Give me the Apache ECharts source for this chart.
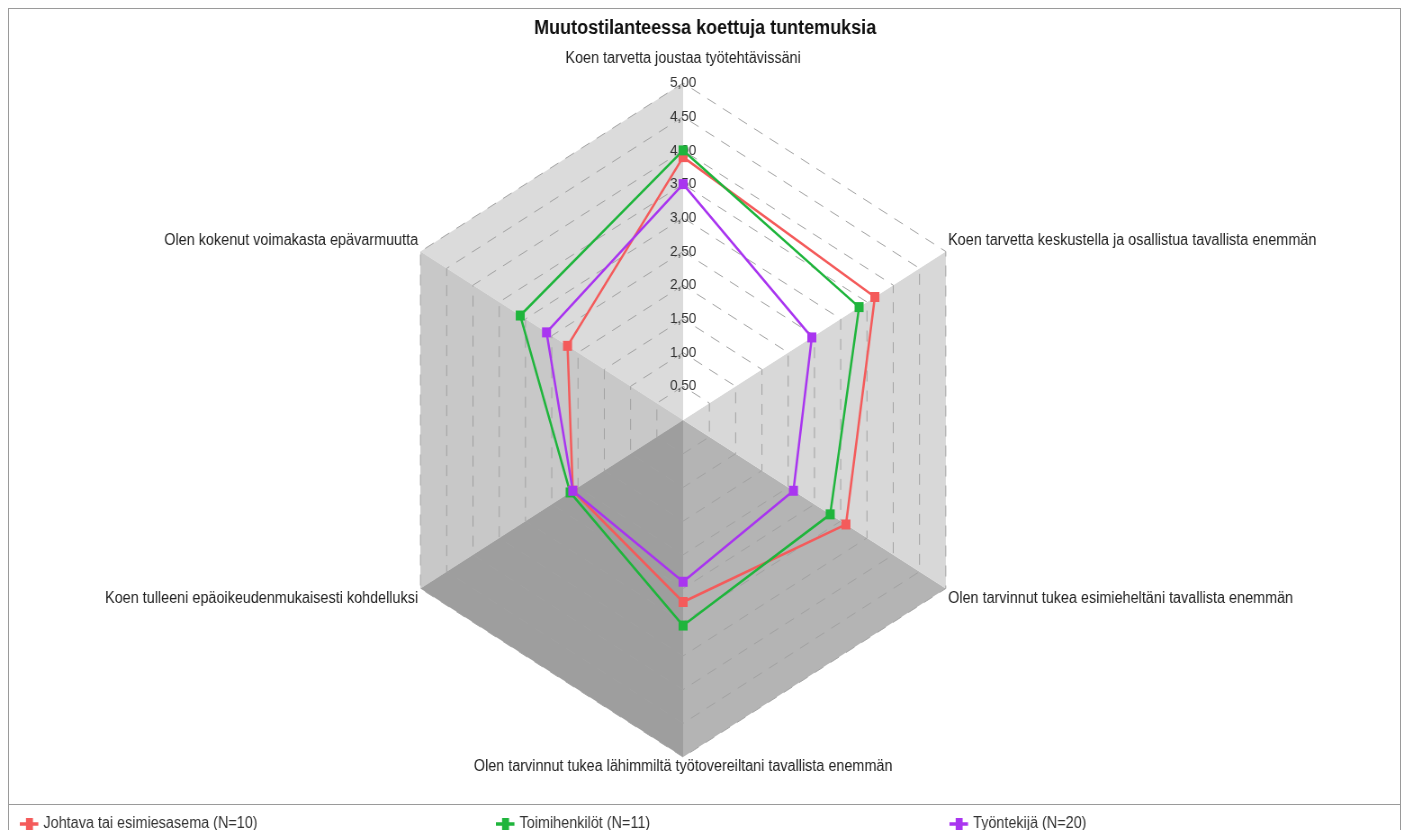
<!DOCTYPE html>
<html>
<head>
<meta charset="utf-8">
<title>Muutostilanteessa koettuja tuntemuksia</title>
<script src="https://cdn.jsdelivr.net/npm/echarts@6/dist/echarts.min.js"></script>
<style>
  html, body { margin: 0; padding: 0; background: #fff; }
  #wrap { position: relative; width: 1410px; height: 830px; overflow: hidden; }
  #frame { position: absolute; left: 8px; top: 8px; width: 1393px; height: 840px; border: 1px solid #9a9a9a; box-sizing: border-box; }
  #sep { position: absolute; left: 8px; top: 804px; width: 1393px; height: 1px; background: #9a9a9a; }
  /* the original picture is squeezed to 90 % of its width, so the chart is too */
  #chart { position: absolute; left: 0; top: 0; width: 1567px; height: 830px; transform: scaleX(0.9); transform-origin: 0 0; }
</style>
</head>
<body>
<div id="wrap">
  <div id="frame"></div>
  <div id="sep"></div>
  <div id="chart"></div>
</div>
<script>
// indicators in the order echarts lays them out (counter-clockwise from the top)
const indicators = [
  'Koen tarvetta joustaa työtehtävissäni',
  'Olen kokenut voimakasta epävarmuutta',
  'Koen tulleeni epäoikeudenmukaisesti kohdelluksi',
  'Olen tarvinnut tukea lähimmiltä työtovereiltani tavallista enemmän',
  'Olen tarvinnut tukea esimieheltäni tavallista enemmän',
  'Koen tarvetta keskustella ja osallistua tavallista enemmän'
];
const seriesNames = ['Johtava tai esimiesasema (N=10)', 'Toimihenkilöt (N=11)', 'Työntekijä (N=20)'];
const johtava = [3.9, 2.2, 2.1, 2.7, 3.1, 3.65];
const toimihenkilot = [4.0, 3.1, 2.15, 3.05, 2.8, 3.35];
const tyontekija = [3.5, 2.6, 2.1, 2.4, 2.1, 2.45];
const axisMin = 0;
const axisMax = 5;
const splitCount = 10;

const seriesColors = ['#f45b5b', '#1fb53c', '#a935f0'];
// shade of each wedge between indicator i and i+1 (the "3d box" background)
const wedgeColors = ['#dbdbdb', '#c8c8c8', '#9e9e9e', '#b4b4b4', '#d8d8d8', '#ffffff'];

const chart = echarts.init(document.getElementById('chart'));

const fontFamily = 'Liberation Sans, Arial, sans-serif';
const legendIcon = 'path://M0,8 L8,8 L8,3 L17,3 L17,8 L24,8 L24,12 L17,12 L17,17 L8,17 L8,12 L0,12 Z';
const legendLeft = [17, 546, 1050];

// rich style per indicator so the names sit like in the original
const nameFormatter = (name) => {
  const i = indicators.indexOf(name);
  if (i === 0) return '{a|' + name + '}\n{t| }';
  if (i === 1 || i === 5) return '{a|' + name + '}\n{s| }';
  if (i === 2 || i === 4) return '{s| }\n{a|' + name + '}';
  return '{b|' + name + '}';
};

const wedgeSeries = wedgeColors.map((color, i) => ({
  type: 'radar',
  silent: true,
  z: 1,
  symbol: 'none',
  lineStyle: { width: 0, opacity: 0 },
  areaStyle: { color: color, opacity: 1 },
  data: [{
    value: indicators.map((_, j) => (j === i || j === (i + 1) % indicators.length) ? axisMax : axisMin)
  }]
}));

const dataSeries = [johtava, toimihenkilot, tyontekija].map((values, i) => ({
  type: 'radar',
  name: seriesNames[i],
  z: 3,
  color: seriesColors[i],
  symbol: 'rect',
  symbolSize: 10,
  lineStyle: { width: 2.5, color: seriesColors[i] },
  itemStyle: { color: seriesColors[i] },
  data: [{ value: values, name: seriesNames[i] }]
}));

const option = {
  animation: false,
  textStyle: { fontFamily: fontFamily },
  title: {
    text: 'Muutostilanteessa koettuja tuntemuksia',
    left: 'center',
    top: 13,
    textStyle: { fontSize: 20, fontWeight: 'bold', color: '#111', fontFamily: fontFamily }
  },
  legend: seriesNames.map((n, i) => ({
    data: [n],
    left: legendLeft[i],
    top: 811,
    icon: legendIcon,
    itemWidth: 22,
    itemHeight: 12,
    itemGap: 6,
    selectedMode: false,
    textStyle: { fontSize: 16, color: '#333', fontFamily: fontFamily }
  })),
  radar: {
    z: 2,
    center: [759, 420],
    radius: 337,
    startAngle: 90,
    shape: 'polygon',
    splitNumber: splitCount,
    nameGap: 3,
    indicator: indicators.map((name, i) => ({
      name: name,
      min: axisMin,
      max: axisMax,
      axisLabel: { show: i === 0 }
    })),
    axisName: {
      color: '#222',
      fontSize: 16,
      fontFamily: fontFamily,
      formatter: nameFormatter,
      rich: {
        a: { fontSize: 16, lineHeight: 18, color: '#222', fontFamily: fontFamily },
        b: { fontSize: 16, lineHeight: 14, color: '#222', fontFamily: fontFamily },
        s: { fontSize: 16, lineHeight: 18 },
        t: { fontSize: 8, lineHeight: 8 }
      }
    },
    axisLine: { show: false },
    axisTick: { show: false },
    axisLabel: {
      show: false,
      showMinLabel: false,
      align: 'center',
      margin: 0,
      fontSize: 15,
      color: '#333',
      fontFamily: fontFamily,
      formatter: (v) => v.toFixed(2).replace('.', ',')
    },
    splitArea: { show: false },
    splitLine: { lineStyle: { color: '#a2a2a2', width: 1, type: [11, 9] } }
  },
  series: wedgeSeries.concat(dataSeries)
};

chart.setOption(option);
window.addEventListener('resize', chart.resize);
</script>
</body>
</html>
